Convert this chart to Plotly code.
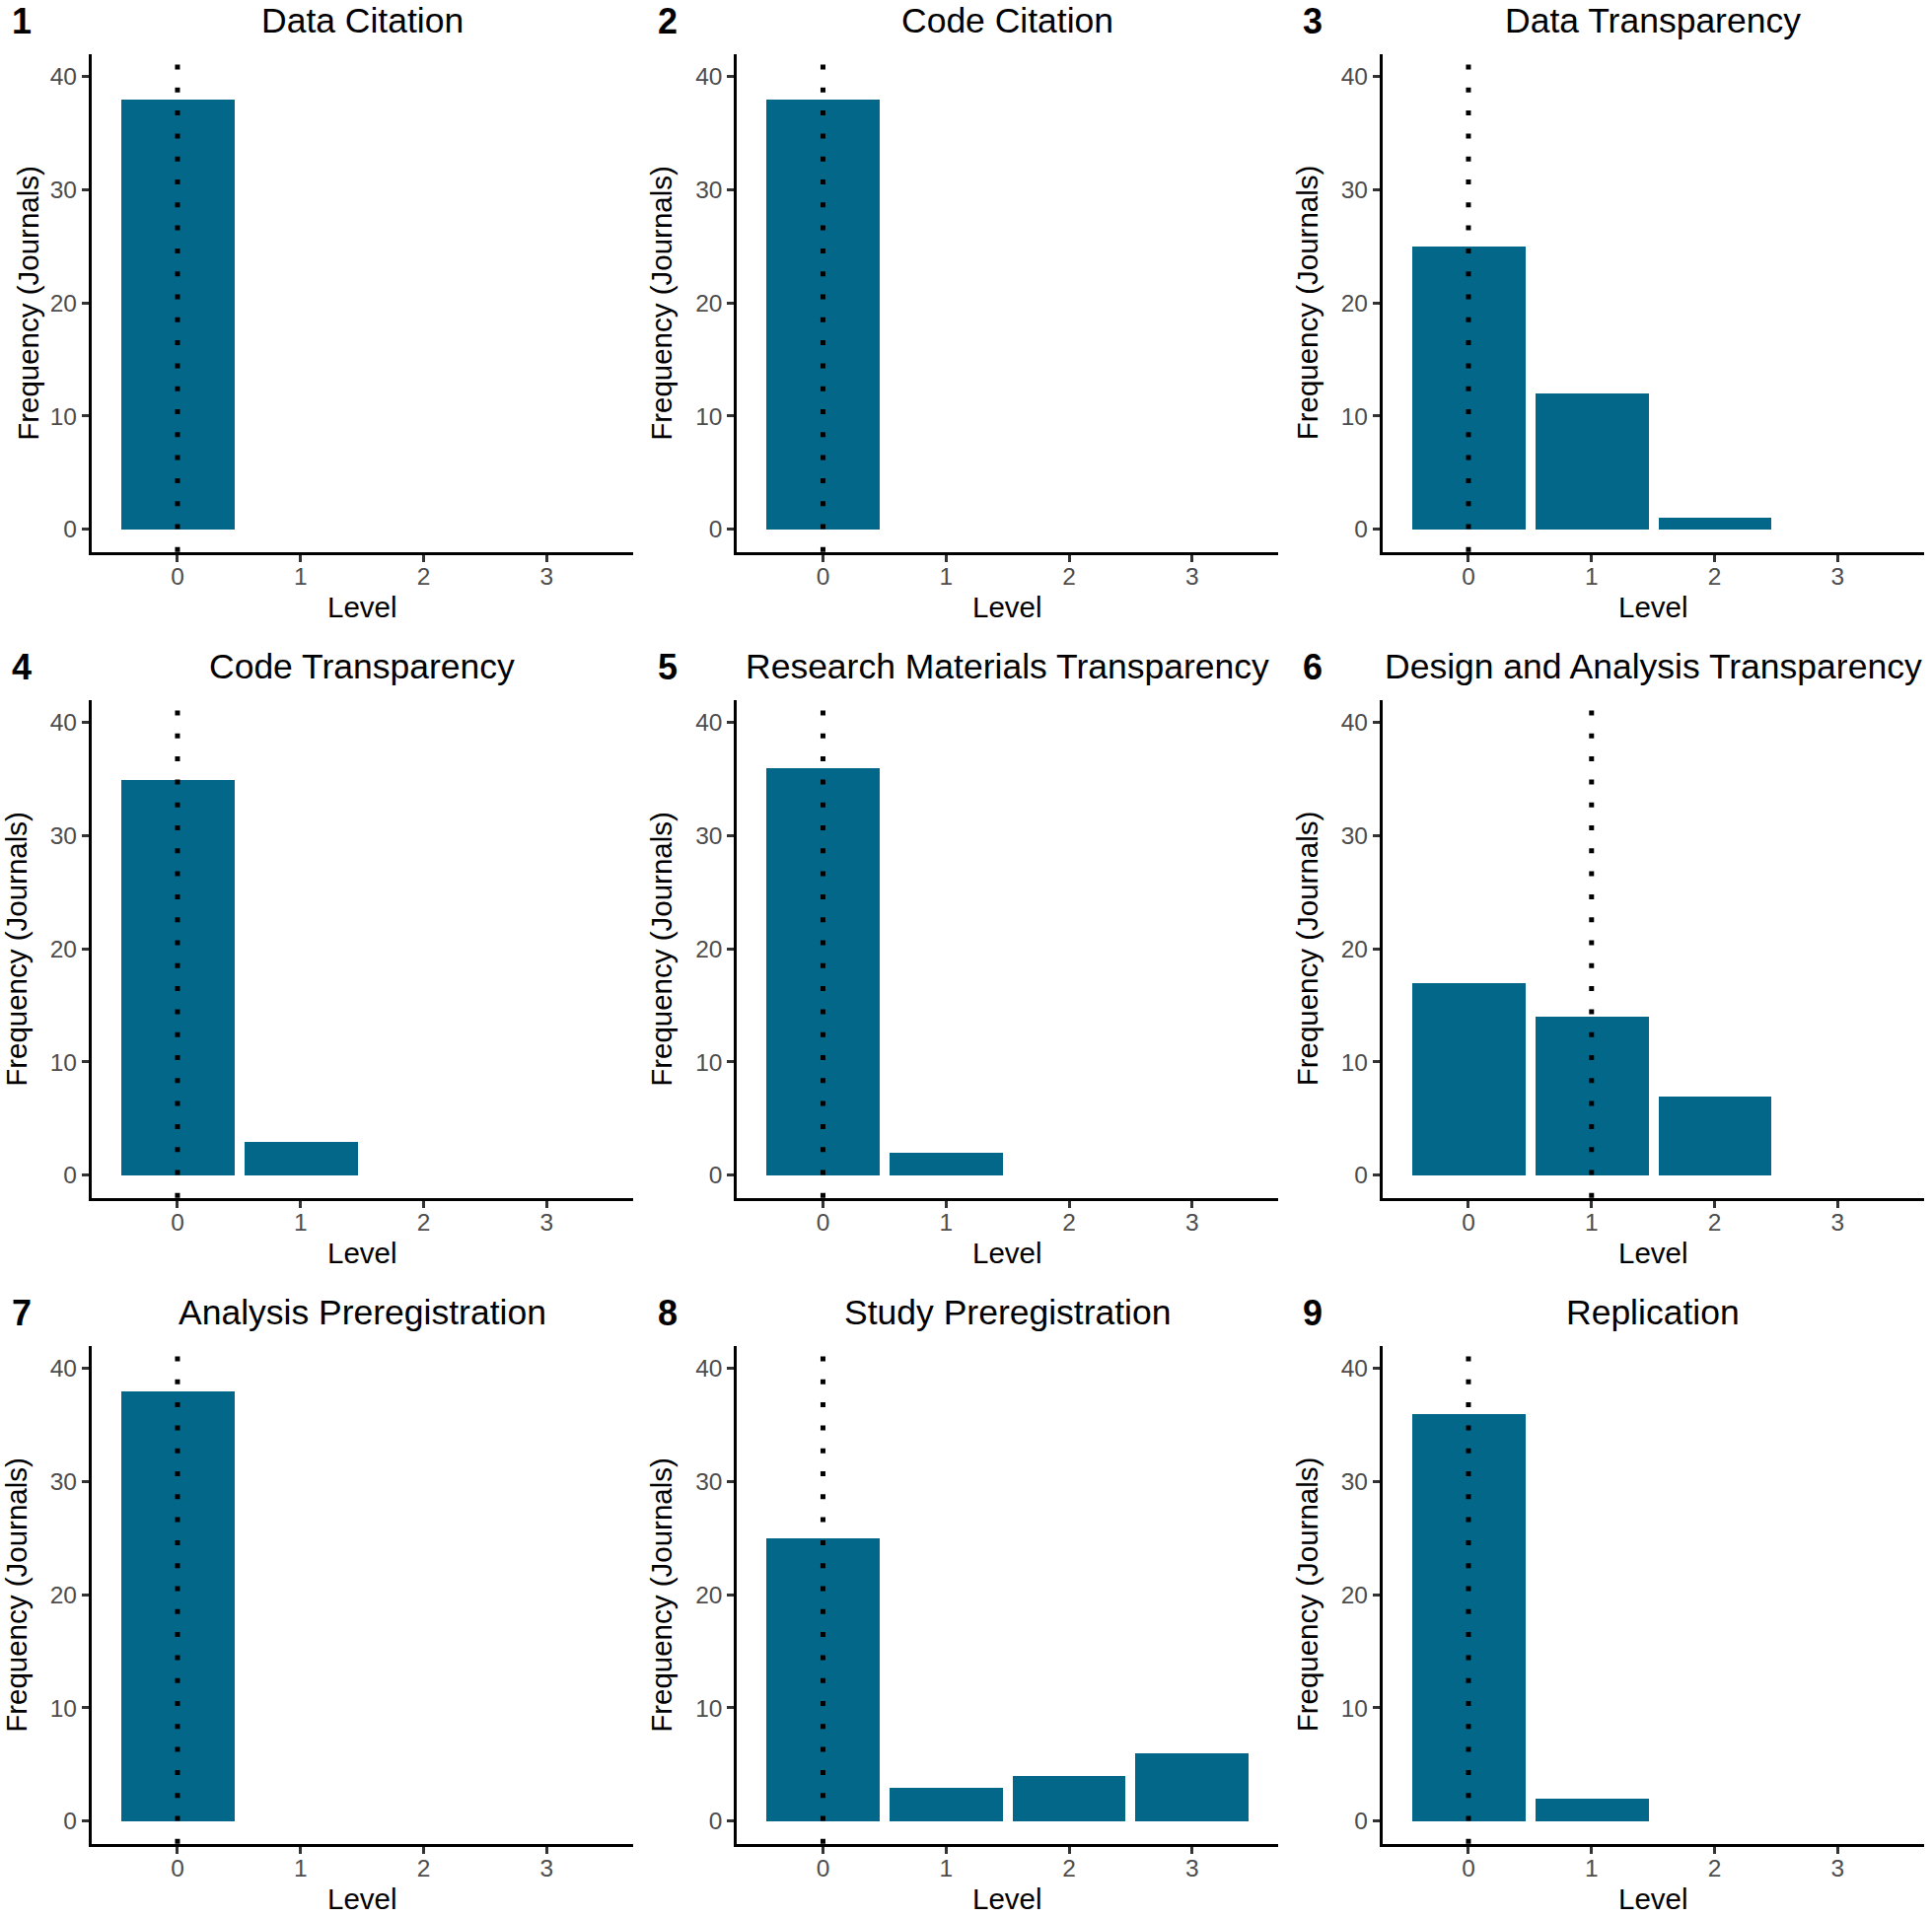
import plotly.graph_objects as go
from plotly.subplots import make_subplots

# ---- data ----
levels = [0, 1, 2, 3]
panel_titles = [
    "Data Citation", "Code Citation", "Data Transparency",
    "Code Transparency", "Research Materials Transparency", "Design and Analysis Transparency",
    "Analysis Preregistration", "Study Preregistration", "Replication",
]
data_citation = [38, 0, 0, 0]
code_citation = [38, 0, 0, 0]
data_transparency = [25, 12, 1, 0]
code_transparency = [35, 3, 0, 0]
materials_transparency = [36, 2, 0, 0]
design_analysis_transparency = [17, 14, 7, 0]
analysis_prereg = [38, 0, 0, 0]
study_prereg = [25, 3, 4, 6]
replication = [36, 2, 0, 0]
series = [data_citation, code_citation, data_transparency,
          code_transparency, materials_transparency, design_analysis_transparency,
          analysis_prereg, study_prereg, replication]
y_ticks = [0, 10, 20, 30, 40]
x_ticks = [0, 1, 2, 3]


def median_level(counts):
    n = sum(counts)
    half = n / 2.0
    cum = 0
    for lv, c in zip(levels, counts):
        cum += c
        if cum >= half:
            if cum == half:
                for lv2, c2 in zip(levels, counts):
                    if lv2 > lv and c2 > 0:
                        return (lv + lv2) / 2.0
            return lv
    return levels[-1]


W, H = 1959, 1944
FONT = "Liberation Sans, Arial, sans-serif"
BAR = "#03678A"

col_left = [92.6, 747.1, 1401.6]
col_step = 654.5
plot_w = 549.2
row_top = [54.7, 709.7, 1364.7]
row_step = 655
plot_h = 505.1
ytitle_off = [-64, -76.5, -76.5, -76, -76.5, -76.5, -76, -76.5, -76.5]


def px(x):
    return x / W


def py(y):
    return 1 - y / H


fig = make_subplots(rows=3, cols=3)
annotations = []

for i, vals in enumerate(series):
    r, c = i // 3, i % 3
    row, col = r + 1, c + 1
    fig.add_trace(go.Bar(x=levels, y=vals, width=0.92, marker=dict(color=BAR, line=dict(width=0)),
                         showlegend=False), row=row, col=col)
    fig.add_vline(x=median_level(vals), line=dict(color="black", width=5, dash="5px,18.3px"),
                  row=row, col=col)
    L, T = col_left[c], row_top[r]
    xa = "xaxis" if i == 0 else f"xaxis{i+1}"
    ya = "yaxis" if i == 0 else f"yaxis{i+1}"
    fig.layout[xa].update(domain=[px(L), px(L + plot_w)])
    fig.layout[ya].update(domain=[py(T + plot_h), py(T)])

    cx = L + plot_w / 2
    annotations.append(dict(text=panel_titles[i], x=px(cx), y=py(21 + r * row_step), xref="paper", yref="paper",
                            xanchor="center", yanchor="middle", showarrow=False,
                            font=dict(family=FONT, size=35.5, color="black")))
    annotations.append(dict(text=f"<b>{i+1}</b>", x=px(22 + c * col_step), y=py(21 + r * row_step),
                            xref="paper", yref="paper",
                            xanchor="center", yanchor="middle", showarrow=False,
                            font=dict(family=FONT, size=36, color="black")))
    annotations.append(dict(text="Level", x=px(cx), y=py(T + plot_h + 56), xref="paper", yref="paper",
                            xanchor="center", yanchor="middle", showarrow=False,
                            font=dict(family=FONT, size=29.5, color="black")))
    annotations.append(dict(text="Frequency (Journals)", x=px(L + ytitle_off[i]), y=py(T + plot_h / 2),
                            xref="paper", yref="paper", textangle=-90,
                            xanchor="center", yanchor="middle", showarrow=False,
                            font=dict(family=FONT, size=29.5, color="black")))

fig.update_xaxes(range=[-0.7, 3.7], tickvals=x_ticks, ticktext=[str(t) for t in x_ticks],
                 showline=True, linecolor="black", linewidth=2.5, mirror=False,
                 ticks="outside", ticklen=7, tickwidth=2.5, tickcolor="#333333",
                 ticklabelstandoff=-6,
                 tickfont=dict(family=FONT, size=24.5, color="#4D4D4D"),
                 showgrid=False, zeroline=False, fixedrange=True)
fig.update_yaxes(range=[-2.02, 42.02], tickvals=y_ticks, ticktext=[str(t) for t in y_ticks],
                 showline=True, linecolor="black", linewidth=2.5, mirror=False,
                 ticks="outside", ticklen=7, tickwidth=2.5, tickcolor="#333333",
                 tickfont=dict(family=FONT, size=24.5, color="#4D4D4D"),
                 showgrid=False, zeroline=False, fixedrange=True)

fig.update_layout(width=W, height=H, margin=dict(l=0, r=0, t=0, b=0),
                  paper_bgcolor="white", plot_bgcolor="white",
                  annotations=annotations, bargap=0, font=dict(family=FONT))

fig.write_html("out.html", config={"displayModeBar": False},
               post_script="document.body.style.margin='0';document.body.style.padding='0';"
                           "document.body.style.overflow='hidden';")
